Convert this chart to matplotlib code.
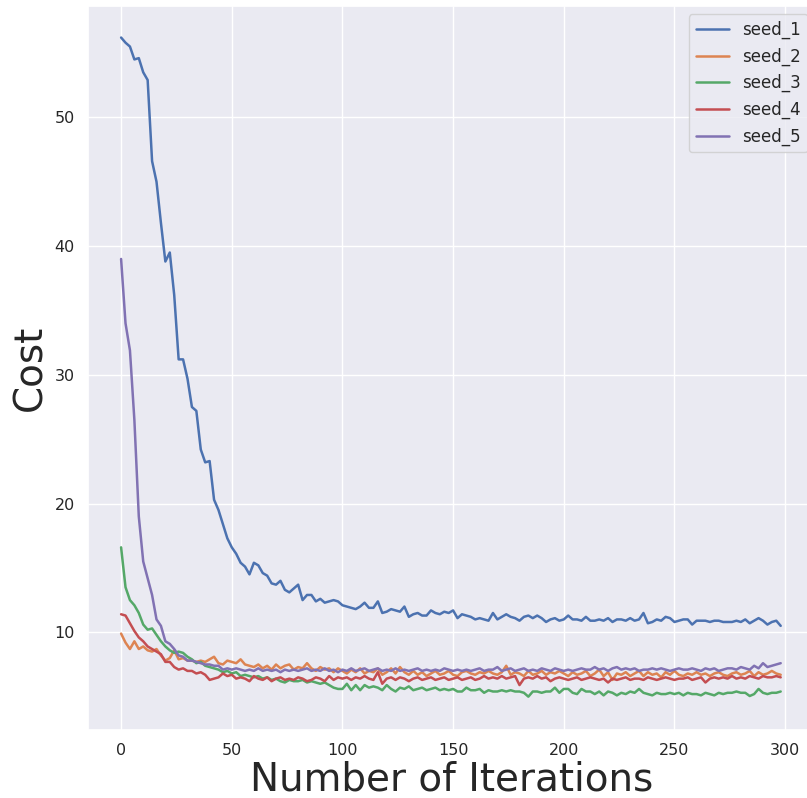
import numpy as np
import matplotlib
matplotlib.use("Agg")
import matplotlib.pyplot as plt
import seaborn as sns

# iteration index (sampled every 2 iterations)
iterations = np.arange(0, 300, 2)

seed_1 = [
    56.2, 55.8, 55.5, 54.5, 54.6, 53.5, 52.9, 46.6, 45.0, 41.8,
    38.8, 39.5, 36.2, 31.2, 31.2, 29.7, 27.5, 27.2, 24.2, 23.2,
    23.3, 20.3, 19.5, 18.4, 17.3, 16.6, 16.1, 15.4, 15.1, 14.5,
    15.4, 15.2, 14.6, 14.4, 13.8, 13.7, 14.0, 13.3, 13.1, 13.4,
    13.7, 12.5, 12.9, 12.9, 12.4, 12.6, 12.3, 12.4, 12.5, 12.4,
    12.1, 12.0, 11.9, 11.8, 12.0, 12.3, 11.9, 11.9, 12.4, 11.5,
    11.6, 11.8, 11.7, 11.6, 12.0, 11.2, 11.4, 11.5, 11.3, 11.3,
    11.7, 11.5, 11.4, 11.6, 11.5, 11.7, 11.1, 11.4, 11.3, 11.2,
    11.0, 11.1, 11.0, 10.9, 11.5, 11.0, 11.2, 11.4, 11.2, 11.1,
    10.9, 11.2, 11.3, 11.1, 11.3, 11.1, 10.8, 11.0, 11.1, 10.9,
    11.0, 11.3, 11.0, 11.0, 10.9, 11.2, 10.9, 10.9, 11.0, 10.9,
    11.1, 10.8, 11.0, 11.0, 10.9, 11.1, 10.9, 11.0, 11.5, 10.7,
    10.8, 11.0, 10.9, 11.2, 11.1, 10.8, 10.9, 11.0, 11.0, 10.6,
    10.9, 10.9, 10.9, 10.8, 10.9, 10.9, 10.8, 10.8, 10.8, 10.9,
    10.8, 11.0, 10.7, 10.9, 11.1, 10.9, 10.6, 10.8, 10.9, 10.5,
]

seed_2 = [
    9.9, 9.2, 8.7, 9.3, 8.7, 8.9, 8.6, 8.5, 8.7, 8.2,
    7.8, 8.0, 8.6, 7.9, 8.0, 7.8, 7.8, 7.7, 7.8, 7.7,
    7.9, 8.1, 7.6, 7.5, 7.8, 7.7, 7.6, 7.9, 7.5, 7.4,
    7.3, 7.5, 7.2, 7.4, 7.1, 7.5, 7.2, 7.4, 7.5, 7.1,
    7.3, 7.2, 7.6, 7.2, 7.0, 7.3, 7.1, 7.2, 6.9, 7.2,
    7.0, 6.8, 7.1, 6.9, 7.2, 6.8, 7.0, 6.9, 7.2, 6.7,
    6.9, 7.2, 6.8, 7.3, 6.9, 6.7, 7.0, 6.7, 6.9, 6.6,
    6.8, 7.0, 6.7, 6.8, 7.0, 6.7, 6.6, 6.9, 7.0, 6.8,
    6.7, 6.9, 6.8, 7.0, 6.8, 6.7, 6.9, 7.4, 6.7, 6.9,
    6.8, 6.6, 7.0, 6.7, 6.8, 7.0, 6.7, 6.9, 6.8, 7.0,
    6.8, 6.6, 6.9, 6.7, 6.8, 7.0, 6.6, 6.8, 7.1, 6.6,
    6.9, 6.3, 6.8, 6.7, 6.9, 6.6, 6.8, 7.0, 6.6, 6.9,
    6.7, 6.8, 6.5, 6.9, 6.7, 7.0, 6.7, 6.6, 6.8, 6.7,
    6.9, 6.7, 6.8, 6.6, 6.8, 6.9, 6.7, 6.6, 6.8, 6.9,
    6.7, 6.8, 7.0, 6.6, 6.9, 6.7, 6.8, 7.0, 6.8, 6.7,
]

seed_3 = [
    16.6, 13.5, 12.5, 12.1, 11.5, 10.6, 10.2, 10.3, 9.8, 9.3,
    8.9, 8.6, 8.4, 8.5, 8.4, 8.1, 7.9, 7.6, 7.7, 7.4,
    7.3, 7.2, 7.1, 6.9, 7.0, 6.8, 6.9, 6.6, 6.7, 6.6,
    6.5, 6.6, 6.4, 6.5, 6.3, 6.4, 6.2, 6.1, 6.3, 6.2,
    6.2, 6.3, 6.1, 6.2, 6.1, 6.0, 6.1, 5.9, 5.7, 5.6,
    5.6, 6.0, 5.5, 5.9, 5.5, 5.9, 5.7, 5.8, 5.7, 5.5,
    5.9, 5.6, 5.4, 5.7, 5.6, 5.8, 5.5, 5.6, 5.7, 5.5,
    5.6, 5.7, 5.5, 5.6, 5.5, 5.6, 5.4, 5.4, 5.7, 5.5,
    5.5, 5.6, 5.3, 5.5, 5.4, 5.4, 5.5, 5.4, 5.5, 5.4,
    5.4, 5.3, 5.0, 5.4, 5.4, 5.3, 5.4, 5.4, 5.7, 5.3,
    5.6, 5.6, 5.3, 5.2, 5.6, 5.4, 5.4, 5.2, 5.4, 5.1,
    5.4, 5.3, 5.1, 5.3, 5.2, 5.4, 5.3, 5.6, 5.3, 5.2,
    5.1, 5.3, 5.2, 5.2, 5.3, 5.2, 5.3, 5.1, 5.3, 5.2,
    5.2, 5.1, 5.3, 5.2, 5.1, 5.3, 5.2, 5.3, 5.3, 5.4,
    5.3, 5.3, 5.05, 5.2, 5.6, 5.3, 5.2, 5.3, 5.3, 5.4,
]

seed_4 = [
    11.4, 11.3, 10.7, 10.1, 9.6, 9.3, 8.9, 8.7, 8.5, 8.3,
    7.7, 7.7, 7.3, 7.1, 7.2, 7.0, 7.0, 6.8, 6.9, 6.7,
    6.3, 6.4, 6.5, 6.8, 6.6, 6.7, 6.4, 6.5, 6.4, 6.2,
    6.6, 6.4, 6.3, 6.5, 6.2, 6.4, 6.5, 6.3, 6.4, 6.3,
    6.5, 6.4, 6.2, 6.3, 6.5, 6.4, 6.2, 6.6, 6.3, 6.5,
    6.4, 6.5, 6.3, 6.5, 6.4, 6.6, 6.4, 6.3, 6.9, 6.0,
    6.4, 6.5, 6.3, 6.5, 6.4, 6.2, 6.4, 6.5, 6.3, 6.4,
    6.5, 6.3, 6.4, 6.5, 6.3, 6.4, 6.5, 6.3, 6.4, 6.5,
    6.3, 6.4, 6.6, 6.4, 6.5, 6.4, 6.6, 6.4, 6.5, 6.6,
    5.9, 6.4, 6.5, 6.4, 6.6, 6.4, 6.5, 6.2, 6.4, 6.5,
    6.4, 6.3, 6.4, 6.5, 6.3, 6.4, 6.5, 6.4, 6.3, 6.4,
    6.1, 6.4, 6.3, 6.4, 6.5, 6.3, 6.4, 6.4, 6.3, 6.5,
    6.4, 6.3, 6.4, 6.5, 6.4, 6.3, 6.4, 6.4, 6.5, 6.3,
    6.4, 6.5, 6.1, 6.4, 6.5, 6.4, 6.5, 6.4, 6.6, 6.4,
    6.5, 6.4, 6.6, 6.5, 6.4, 6.6, 6.5, 6.5, 6.6, 6.5,
]

seed_5 = [
    39.0, 34.0, 31.9, 26.5, 19.0, 15.5, 14.2, 12.9, 11.0, 10.5,
    9.3, 9.1, 8.7, 8.2, 8.1, 7.8, 7.8, 7.7, 7.6, 7.5,
    7.5, 7.4, 7.4, 7.1, 7.2, 7.1, 7.2, 7.1, 7.0, 7.1,
    7.0, 7.2, 7.0, 7.1, 7.0, 7.1, 6.9, 7.1, 7.0, 7.1,
    7.0, 7.1, 7.2, 7.0, 7.1, 7.0, 7.2, 7.0, 7.1, 6.9,
    7.1, 7.0, 7.2, 7.0, 7.1, 7.2, 7.0, 7.1, 7.2, 7.0,
    7.1, 7.0, 7.2, 7.0, 7.1, 7.0, 7.1, 7.2, 7.0, 7.1,
    7.0, 7.1, 7.0, 7.2, 7.1, 7.0, 7.1, 7.0, 7.1, 7.0,
    7.1, 7.2, 7.0, 7.1, 7.1, 7.3, 7.0, 7.1, 7.2, 7.0,
    7.1, 7.2, 7.0, 7.1, 7.0, 7.2, 7.1, 7.0, 7.2, 7.1,
    7.0, 7.1, 7.0, 7.1, 7.2, 7.1, 7.1, 7.3, 7.1, 7.2,
    7.0, 7.2, 7.3, 7.1, 7.2, 7.1, 7.2, 7.0, 7.1, 7.1,
    7.2, 7.1, 7.2, 7.1, 7.0, 7.1, 7.2, 7.1, 7.1, 7.2,
    7.1, 7.0, 7.2, 7.1, 7.2, 7.0, 7.1, 7.2, 7.2, 7.1,
    7.3, 7.2, 7.1, 7.4, 7.2, 7.6, 7.3, 7.4, 7.5, 7.6,
]

labels = ["seed_1", "seed_2", "seed_3", "seed_4", "seed_5"]
series = [seed_1, seed_2, seed_3, seed_4, seed_5]

sns.set_theme(style="darkgrid")
plt.rcParams['font.family'] = ['DejaVu Sans']

fig = plt.figure(figsize=(8.07, 7.98), dpi=100)
# axes run a bit past the right edge of the figure, like the original
ax = fig.add_axes([88 / 807, 68 / 798, 728 / 807, 724 / 798])

for lab, vals in zip(labels, series):
    ax.plot(iterations, vals, label=lab, linewidth=1.8)

ax.set_xlim(-14.95, 313.95)
ax.set_ylim(2.41, 58.65)
ax.set_xticks([0, 50, 100, 150, 200, 250, 300])
ax.set_yticks([10, 20, 30, 40, 50])
ax.tick_params(labelsize=11.5)
ax.set_xlabel("Number of Iterations", fontsize=28, labelpad=2)
ax.set_ylabel("Cost", fontsize=28, labelpad=4)
ax.legend(loc="upper right", fontsize=12)

plt.savefig("out.png", dpi=100)
